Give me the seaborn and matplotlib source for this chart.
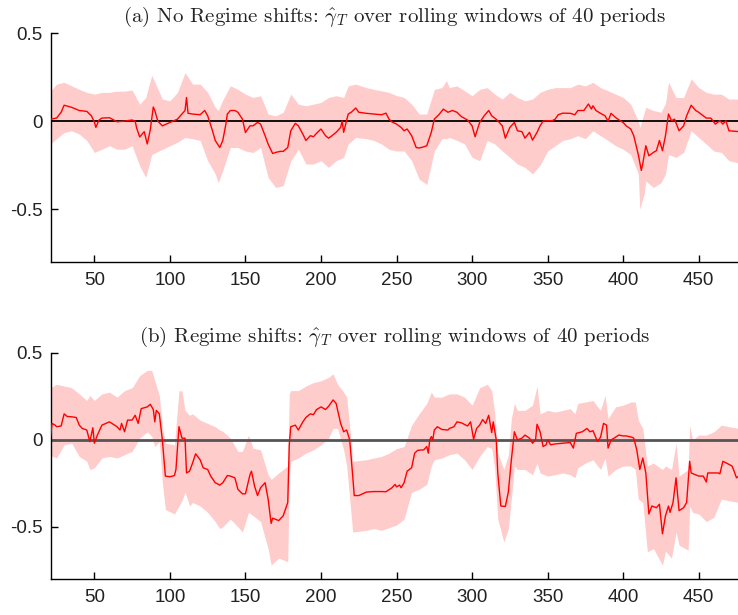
import matplotlib
matplotlib.use("Agg")
import matplotlib.pyplot as plt
import seaborn as sns
import pandas as pd

# ---------------- data ----------------
titles = [r"(a) No Regime shifts: $\hat{\gamma}_T$ over rolling windows of 40 periods",
          r"(b) Regime shifts: $\hat{\gamma}_T$ over rolling windows of 40 periods"]

xticks = [50, 100, 150, 200, 250, 300, 350, 400, 450]
xtick_labels = ["50", "100", "150", "200", "250", "300", "350", "400", "450"]
yticks = [-0.5, 0, 0.5]
ytick_labels = ["-0.5", "0", "0.5"]

# panel (a): estimate
a_t = [21, 25, 28, 30, 35, 40, 45, 48, 50, 51, 53, 55, 60, 65, 70, 75, 77, 78, 80, 83,
       85, 87, 89, 90, 92, 95, 100, 105, 108, 110, 111, 112, 115, 120, 123, 125, 128, 130, 133, 135,
       137, 138, 140, 143, 145, 148, 150, 153, 155, 158, 160, 163, 165, 168, 170, 173, 175, 178, 180, 183,
       185, 188, 190, 193, 195, 197, 200, 203, 205, 207, 210, 213, 214, 215, 218, 220, 223, 225, 230, 235,
       240, 243, 245, 247, 250, 253, 255, 257, 260, 263, 265, 268, 270, 273, 275, 278, 281, 284, 287, 290,
       293, 297, 300, 302, 305, 308, 311, 313, 315, 317, 320, 322, 325, 328, 330, 333, 335, 338, 340, 343,
       345, 347, 350, 353, 355, 357, 360, 365, 368, 370, 374, 377, 379, 380, 382, 385, 388, 390, 392, 395,
       398, 400, 402, 405, 407, 410, 412, 413, 415, 417, 420, 422, 424, 426, 428, 430, 432, 434, 437, 440,
       442, 445, 448, 450, 453, 455, 458, 461, 464, 466, 468, 470, 475, 477]
a_v = [0.011, 0.017, 0.05, 0.09, 0.078, 0.06, 0.055, 0.03, -0.005, -0.036, 0.005, 0.017, 0.019, -0.004, 0.0, 0.006, 0.0, -0.04, -0.09, -0.06,
       -0.13, -0.05, 0.08, 0.06, 0.0, -0.027, -0.008, 0.011, 0.04, 0.06, 0.134, 0.044, 0.04, 0.036, 0.06, 0.03, -0.05, -0.11, -0.15, -0.11,
       -0.02, 0.04, 0.06, 0.06, 0.05, 0.011, -0.065, -0.027, -0.027, -0.008, -0.017, -0.083, -0.13, -0.184, -0.178, -0.172, -0.172, -0.15, -0.055, -0.013,
       -0.027, -0.074, -0.11, -0.083, -0.089, -0.07, -0.045, -0.083, -0.097, -0.085, -0.064, -0.036, 0.0, -0.064, 0.04, 0.05, 0.074, 0.05, 0.044, 0.04,
       0.036, 0.045, 0.011, -0.005, -0.017, -0.036, -0.055, -0.045, -0.083, -0.15, -0.153, -0.146, -0.14, -0.064, 0.011, 0.036, 0.068, 0.05, 0.06, 0.05,
       0.025, 0.006, -0.027, -0.089, -0.008, 0.03, 0.06, 0.03, 0.017, 0.002, -0.027, -0.097, -0.036, -0.008, -0.055, -0.06, -0.097, -0.064, -0.108, -0.064,
       -0.027, 0.0, 0.002, 0.002, 0.011, 0.036, 0.045, 0.044, 0.036, 0.06, 0.06, 0.097, 0.068, 0.087, 0.06, 0.044, 0.03, 0.0, 0.044, 0.02,
       0.002, -0.008, -0.027, -0.045, -0.083, -0.19, -0.28, -0.24, -0.14, -0.197, -0.178, -0.168, -0.11, -0.168, -0.083, 0.04, 0.002, 0.011, -0.055, -0.027,
       0.03, 0.09, 0.06, 0.05, 0.03, 0.017, 0.017, -0.017, 0.002, -0.017, 0.002, -0.055, -0.059, -0.06]

a_bt = [21, 25, 30, 35, 40, 45, 50, 55, 60, 65, 70, 75, 80, 84, 88, 95, 100, 105, 110, 115,
        120, 125, 130, 132, 135, 140, 145, 150, 155, 160, 165, 170, 175, 180, 185, 190, 195, 200, 205, 210,
        215, 218, 223, 230, 235, 240, 245, 250, 255, 260, 265, 270, 275, 280, 283, 285, 290, 295, 300, 305,
        310, 315, 320, 325, 330, 335, 340, 345, 350, 355, 360, 365, 370, 375, 380, 385, 390, 395, 400, 405,
        410, 411, 414, 415, 420, 425, 428, 430, 435, 440, 445, 450, 455, 460, 465, 470, 475, 477]
a_hi = [0.17, 0.21, 0.22, 0.20, 0.18, 0.163, 0.153, 0.163, 0.163, 0.17, 0.17, 0.176, 0.096, 0.134, 0.26, 0.125, 0.115, 0.163, 0.275, 0.21,
        0.21, 0.163, 0.078, 0.06, 0.12, 0.20, 0.18, 0.153, 0.134, 0.144, 0.04, 0.03, 0.05, 0.153, 0.096, 0.087, 0.096, 0.106, 0.134, 0.144,
        0.134, 0.20, 0.21, 0.19, 0.18, 0.172, 0.163, 0.145, 0.134, 0.096, 0.04, 0.04, 0.18, 0.19, 0.23, 0.19, 0.20, 0.172, 0.144, 0.18,
        0.19, 0.153, 0.125, 0.163, 0.134, 0.115, 0.125, 0.163, 0.18, 0.19, 0.19, 0.19, 0.21, 0.20, 0.22, 0.19, 0.172, 0.153, 0.134, 0.096,
        0.0, -0.036, 0.05, 0.078, 0.06, 0.05, 0.10, 0.22, 0.134, 0.134, 0.24, 0.19, 0.163, 0.153, 0.153, 0.125, 0.125, 0.125]
a_lo = [-0.13, -0.10, -0.065, -0.055, -0.074, -0.11, -0.178, -0.16, -0.14, -0.16, -0.16, -0.14, -0.254, -0.32, -0.19, -0.16, -0.14, -0.12, -0.093, -0.10,
        -0.11, -0.225, -0.30, -0.35, -0.28, -0.15, -0.15, -0.17, -0.178, -0.15, -0.32, -0.377, -0.367, -0.225, -0.16, -0.244, -0.244, -0.225, -0.263, -0.225,
        -0.206, -0.13, -0.093, -0.10, -0.11, -0.13, -0.16, -0.17, -0.17, -0.225, -0.33, -0.36, -0.17, -0.10, -0.10, -0.093, -0.11, -0.13, -0.206, -0.225,
        -0.11, -0.13, -0.17, -0.206, -0.244, -0.263, -0.30, -0.25, -0.17, -0.14, -0.11, -0.10, -0.083, -0.10, -0.055, -0.083, -0.11, -0.14, -0.16, -0.19,
        -0.30, -0.50, -0.41, -0.34, -0.377, -0.35, -0.30, -0.19, -0.206, -0.178, -0.055, -0.093, -0.13, -0.17, -0.178, -0.225, -0.235, -0.235]

# panel (b): estimate
b_t = [21, 22, 24, 25, 28, 30, 32, 35, 38, 40, 42, 45, 47, 49, 50, 52, 55, 60, 65, 67,
       68, 70, 72, 75, 77, 79, 81, 85, 87, 89, 90, 91, 93, 95, 97, 100, 103, 104, 106, 108,
       110, 111, 113, 115, 117, 120, 122, 125, 127, 130, 133, 135, 138, 140, 143, 145, 148, 150, 153, 154,
       156, 158, 160, 163, 165, 167, 168, 172, 175, 178, 179, 180, 183, 185, 188, 190, 193, 195, 197, 200,
       203, 205, 208, 210, 213, 215, 217, 219, 221, 222, 225, 230, 235, 240, 243, 247, 249, 250, 252, 253,
       255, 257, 260, 262, 264, 268, 270, 271, 272, 273, 274, 275, 277, 280, 284, 285, 288, 290, 293, 297,
       299, 301, 303, 305, 307, 309, 311, 313, 314, 316, 317, 319, 322, 324, 326, 328, 330, 333, 335, 338,
       340, 342, 343, 345, 347, 349, 350, 352, 355, 360, 365, 367, 369, 373, 376, 378, 380, 383, 385, 387,
       389, 390, 392, 394, 397, 400, 402, 406, 407, 409, 411, 413, 415, 417, 419, 422, 424, 426, 428, 430,
       431, 433, 435, 437, 440, 442, 444, 445, 450, 453, 455, 456, 460, 463, 464, 466, 469, 472, 473, 475, 477]
b_v = [0.02, 0.095, 0.085, 0.076, 0.08, 0.15, 0.135, 0.133, 0.129, 0.085, 0.066, 0.057, -0.01, 0.07, -0.019, 0.028, 0.085, 0.104, 0.076, 0.057,
       0.095, 0.047, 0.114, 0.114, 0.142, 0.095, 0.18, 0.19, 0.205, 0.175, 0.104, 0.17, 0.15, 0.0, -0.208, -0.212, -0.205, -0.17, 0.076, 0.01,
       0.01, -0.19, -0.18, -0.133, -0.08, -0.114, -0.16, -0.17, -0.208, -0.246, -0.26, -0.246, -0.205, -0.208, -0.218, -0.284, -0.31, -0.31, -0.2, -0.18,
       -0.265, -0.32, -0.275, -0.246, -0.34, -0.48, -0.45, -0.464, -0.436, -0.36, -0.028, 0.076, 0.085, 0.057, 0.104, 0.129, 0.15, 0.145, 0.174, 0.19,
       0.175, 0.193, 0.23, 0.21, 0.095, 0.047, 0.057, 0.0, -0.208, -0.32, -0.32, -0.30, -0.297, -0.297, -0.298, -0.275, -0.256, -0.27, -0.26, -0.275,
       -0.246, -0.18, -0.16, -0.076, -0.06, -0.057, -0.038, -0.076, 0.0, 0.019, 0.0, 0.057, 0.076, 0.06, 0.057, 0.066, 0.076, 0.104, 0.098, 0.08,
       0.104, 0.004, 0.066, 0.085, 0.117, 0.095, 0.142, 0.042, 0.104, 0.0, -0.19, -0.38, -0.383, -0.30, -0.114, 0.047, 0.0, 0.01, 0.028, 0.01,
       -0.019, 0.0, 0.09, 0.047, -0.038, -0.028, 0.0, -0.028, -0.023, -0.019, -0.015, -0.047, 0.038, 0.047, 0.066, 0.047, 0.053, -0.009, 0.015, 0.095,
       0.085, -0.047, 0.0, 0.01, 0.028, 0.023, 0.023, 0.015, 0.01, -0.057, -0.17, -0.104, -0.19, -0.426, -0.38, -0.39, -0.37, -0.54, -0.436, -0.38,
       -0.417, -0.36, -0.218, -0.407, -0.39, -0.36, -0.123, -0.19, -0.208, -0.208, -0.242, -0.19, -0.19, -0.19, -0.195, -0.123, -0.136, -0.15, -0.17, -0.218, -0.205]

b_bt = [21, 25, 30, 35, 40, 45, 47, 50, 55, 60, 65, 70, 75, 80, 85, 88, 90, 93, 95, 97,
        103, 106, 108, 110, 113, 115, 120, 125, 130, 133, 135, 140, 145, 148, 152, 155, 160, 165, 167, 172,
        178, 179, 180, 185, 190, 195, 200, 205, 208, 211, 215, 217, 219, 221, 230, 235, 240, 245, 250, 255,
        260, 265, 270, 273, 275, 280, 285, 290, 295, 300, 305, 310, 313, 315, 317, 321, 324, 326, 328, 330,
        335, 340, 343, 345, 350, 355, 360, 365, 368, 370, 375, 380, 385, 388, 390, 395, 400, 405, 408, 410,
        413, 416, 420, 426, 428, 432, 435, 437, 443, 444, 446, 450, 455, 460, 465, 470, 477]
b_hi = [0.30, 0.32, 0.31, 0.30, 0.265, 0.227, 0.256, 0.227, 0.265, 0.275, 0.246, 0.284, 0.30, 0.37, 0.40, 0.40, 0.34, 0.256, 0.076, -0.019,
        -0.028, 0.284, 0.28, 0.17, 0.142, 0.15, 0.114, 0.095, 0.076, 0.057, 0.05, 0.01, -0.066, -0.066, 0.028, -0.047, -0.057, -0.2, -0.227, -0.19,
        -0.15, 0.265, 0.284, 0.284, 0.31, 0.33, 0.34, 0.36, 0.38, 0.32, 0.275, 0.246, 0.076, -0.123, -0.114, -0.104, -0.095, -0.076, -0.05, -0.038,
        0.085, 0.15, 0.21, 0.275, 0.246, 0.246, 0.265, 0.265, 0.246, 0.20, 0.30, 0.32, 0.284, 0.15, -0.076, -0.17, -0.085, 0.123, 0.21, 0.17,
        0.17, 0.20, 0.31, 0.15, 0.17, 0.16, 0.17, 0.18, 0.15, 0.21, 0.218, 0.227, 0.17, 0.256, 0.123, 0.19, 0.20, 0.218, 0.218, 0.114,
        0.066, -0.15, -0.133, -0.17, -0.15, -0.17, -0.019, -0.208, -0.17, 0.085, 0.0, 0.028, 0.028, 0.047, 0.085, 0.076, 0.066]
b_lo = [-0.09, -0.104, -0.028, -0.019, -0.095, -0.123, -0.17, -0.16, -0.104, -0.095, -0.104, -0.085, -0.066, 0.01, 0.047, 0.02, -0.038, -0.009, -0.246, -0.40,
        -0.426, -0.38, -0.35, -0.30, -0.38, -0.36, -0.38, -0.417, -0.47, -0.51, -0.50, -0.455, -0.50, -0.53, -0.417, -0.436, -0.47, -0.625, -0.72, -0.68,
        -0.70, -0.21, -0.123, -0.104, -0.076, -0.057, -0.028, 0.01, 0.066, 0.066, -0.057, -0.15, -0.34, -0.53, -0.52, -0.51, -0.52, -0.505, -0.49, -0.455,
        -0.30, -0.284, -0.256, -0.15, -0.114, -0.104, -0.085, -0.076, -0.114, -0.17, -0.095, -0.038, -0.05, -0.17, -0.455, -0.587, -0.51, -0.34, -0.15, -0.17,
        -0.17, -0.2, -0.133, -0.19, -0.208, -0.2, -0.19, -0.2, -0.218, -0.16, -0.133, -0.114, -0.17, -0.104, -0.208, -0.17, -0.15, -0.15, -0.17, -0.34,
        -0.36, -0.644, -0.625, -0.72, -0.64, -0.68, -0.53, -0.606, -0.634, -0.38, -0.417, -0.426, -0.47, -0.445, -0.34, -0.35, -0.36]

# ---------------- drawing ----------------
sns.set_theme(style="ticks")
plt.rcParams["font.family"] = ["Liberation Sans", "DejaVu Sans"]
plt.rcParams["mathtext.fontset"] = "cm"

fig = plt.figure(figsize=(7.38, 6.15), dpi=100)
W, H = 738, 615
ax_a = fig.add_axes([51 / W, 1 - 262 / H, 1 - 51 / W, (262 - 33) / H])
ax_b = fig.add_axes([51 / W, 1 - 579 / H, 1 - 51 / W, (579 - 353) / H])

panels = [
    (ax_a, a_t, a_v, a_bt, a_lo, a_hi, titles[0], "black"),
    (ax_b, b_t, b_v, b_bt, b_lo, b_hi, titles[1], "#555555"),
]
for ax, t, v, bt, lo, hi, title, zc in panels:
    ax.fill_between(bt, lo, hi, color="#ffcccc", linewidth=0, zorder=1)
    ax.axhline(0, color=zc, lw=1.3 if zc == "black" else 2.0, zorder=2)
    df = pd.DataFrame({"t": t, "v": v})
    sns.lineplot(data=df, x="t", y="v", ax=ax, color="red", lw=1.0, zorder=3)
    ax.set_xlim(21.3, 476.0)
    ax.set_ylim(-0.8, 0.5)
    ax.set_xticks(xticks, labels=xtick_labels)
    ax.set_yticks(yticks, labels=ytick_labels)
    ax.set_xlabel("")
    ax.set_ylabel("")
    ax.tick_params(direction="in", length=5, width=1, labelsize=13.5, color="black",
                   labelcolor="#222222")
    ax.tick_params(axis="x", pad=7)
    ax.tick_params(axis="y", pad=6)
    for s in ["top", "right"]:
        ax.spines[s].set_visible(False)
    for s in ["left", "bottom"]:
        ax.spines[s].set_color("black")
        ax.spines[s].set_linewidth(1.0)
    ax.set_title(title, fontsize=15, family="cmr10", color="#222222", pad=8)

fig.savefig("out.png", dpi=100)
